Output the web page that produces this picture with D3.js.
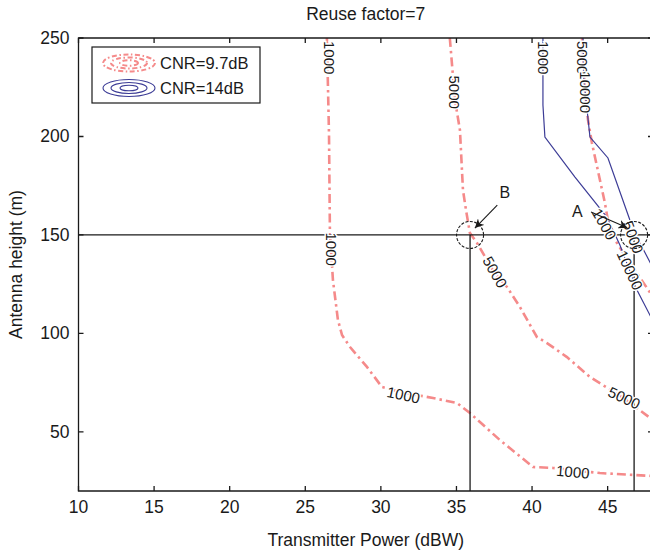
<!DOCTYPE html>
<html><head><meta charset="utf-8">
<script src="https://cdn.jsdelivr.net/npm/d3@7"></script>
<style>body{margin:0;background:#fff}svg{display:block;font-family:"Liberation Sans",Arial,sans-serif}</style>
</head><body>
<svg id="c" width="650" height="553"></svg>
<script>
// ---- data ----
const xTicks = [10,15,20,25,30,35,40,45];
const yTicks = [50,100,150,200,250];
const red1000 = [[26.43,250],[26.57,200.8],[26.63,151],[26.83,127.1],[27.16,106.8],[27.43,99.2],[27.96,93.1],[29.08,83],[30.07,72.8],[31.26,70.3],[33.45,67.2],[35.03,64.7],[35.89,59.6],[36.55,55],[37.87,45.9],[40.06,32.2],[41.38,31.7],[44.49,29.1],[48,27.6]];
const red5000 = [[34.56,250],[34.9,218.5],[35.23,203.3],[35.43,172.8],[35.63,162.7],[35.89,151],[36.36,145.9],[37.48,131.2],[38.34,123.6],[39.2,113.4],[40.32,98.2],[40.99,95.1],[42.31,88],[43.83,77.9],[45.95,67.7],[46.94,62.1],[48,56]];
const red10000 = [[43.3,250],[43.5,223.6],[43.7,208.4],[43.96,196.7],[44.49,177.9],[44.82,166.2],[45.15,151.5],[46.34,137.3],[47.6,123.1],[48,118.5]];
const blue1000 = [[40.72,250],[40.72,216],[40.85,199.7],[42.84,179.4],[44.95,159.1],[45.81,144.9],[46.94,122.1],[48,106.3]];
const blue5000 = [[43.37,250],[43.43,228.7],[43.83,199.7],[45.02,189.1],[46.47,157.6],[47.14,145.9],[48,133.2]];
const labelText = ["1000","1000","1000","1000","5000","5000","5000","1000","5000","10000","1000","5000","10000"];
const labelX    = [26.58,26.72,31.5,42.7,34.9,37.55,46.1,40.75,43.33,43.55,44.78,46.69,46.48];
const labelY    = [240,142.8,68.8,29.8,222.5,131.2,67.3,240,240,222.5,155.6,148.9,132.2];
const labelAng  = [90,90,12,5,90,60,25,90,90,90,60,70,65];
const refPower = [35.9, 46.75];
const refHeight = 150;
const legendNames = ["CNR=9.7dB","CNR=14dB"];

// ---- chart ----
const W=650,H=553, L=78.5, T=38, R=653, B=491;
const svg=d3.select("#c");
const x=d3.scaleLinear().domain([10,48]).range([L,R]);
const y=d3.scaleLinear().domain([20,250]).range([B,T]);
const red="#f58a8a", blue="#3c3c96", ink="#1a1a1a";
const fs=17.5;

svg.append("text").attr("x",(L+R)/2).attr("y",20).attr("text-anchor","middle")
  .attr("font-size",fs).attr("fill",ink).text("Reuse factor=7");
svg.append("text").attr("x",(L+R)/2).attr("y",546).attr("text-anchor","middle")
  .attr("font-size",fs).attr("fill",ink).text("Transmitter Power (dBW)");
svg.append("text").attr("transform",`translate(22,${(T+B)/2}) rotate(-90)`).attr("text-anchor","middle")
  .attr("font-size",fs).attr("fill",ink).text("Antenna height (m)");

const g=svg.append("g");
const line=d3.line().x(d=>x(d[0])).y(d=>y(d[1]));
function drawRed(d){g.append("path").attr("d",line(d)).attr("fill","none").attr("stroke",red)
  .attr("stroke-width",2.6).attr("stroke-dasharray","9,4,2.5,4");}
function drawBlue(d){g.append("path").attr("d",line(d)).attr("fill","none").attr("stroke",blue).attr("stroke-width",1.2);}
[red1000,red5000,red10000].forEach(drawRed);
[blue1000,blue5000].forEach(drawBlue);

// reference lines
g.append("line").attr("x1",x(10)).attr("x2",x(48)).attr("y1",y(refHeight)).attr("y2",y(refHeight)).attr("stroke",ink).attr("stroke-width",1.3);
refPower.forEach(p=>g.append("line").attr("x1",x(p)).attr("x2",x(p)).attr("y1",y(refHeight)).attr("y2",y(20)).attr("stroke",ink).attr("stroke-width",1.3));

// contour labels
labelText.forEach((t,i)=>{
  g.append("text").attr("transform",`translate(${x(labelX[i])},${y(labelY[i])}) rotate(${labelAng[i]})`)
   .attr("text-anchor","middle").attr("dominant-baseline","central").attr("font-size",15)
   .attr("fill",ink).attr("stroke","#fff").attr("stroke-width",3).attr("paint-order","stroke").text(t);
});

// circles
refPower.forEach(p=>g.append("circle").attr("cx",x(p)).attr("cy",y(refHeight)).attr("r",13.5)
  .attr("fill","none").attr("stroke",ink).attr("stroke-width",1.1).attr("stroke-dasharray","3,1.5"));

// arrows
svg.append("defs").append("marker").attr("id","ah").attr("viewBox","0 0 10 10").attr("refX",10).attr("refY",5)
  .attr("markerWidth",9).attr("markerHeight",9).attr("markerUnits","userSpaceOnUse").attr("orient","auto")
  .append("path").attr("d","M0,0L10,5L0,10L3,5Z").attr("fill",ink);
const arrows=[{from:[37.7,165.2],to:[36.22,153.5],lab:"B",lx:38.2,ly:171.5},{from:[43.9,161.7],to:[46.3,153.6],lab:"A",lx:43.0,ly:162}];
arrows.forEach(a=>{
  g.append("line").attr("x1",x(a.from[0])).attr("y1",y(a.from[1])).attr("x2",x(a.to[0])).attr("y2",y(a.to[1]))
   .attr("stroke",ink).attr("stroke-width",1.1).attr("marker-end","url(#ah)");
  g.append("text").attr("x",x(a.lx)).attr("y",y(a.ly)).attr("text-anchor","middle").attr("dominant-baseline","central")
   .attr("font-size",16).attr("fill",ink).text(a.lab);
});

// axes
const ax=svg.append("g").attr("fill","none").attr("stroke",ink).attr("stroke-width",1.3);
ax.append("path").attr("d",`M${L},${B}V${T}H${R}V${B}Z`);
const tl=5;
xTicks.forEach(v=>{ax.append("path").attr("d",`M${x(v)},${B}v${-tl}M${x(v)},${T}v${tl}`);});
yTicks.forEach(v=>{ax.append("path").attr("d",`M${L},${y(v)}h${tl}M${R},${y(v)}h${-tl}`);});
xTicks.forEach(v=>svg.append("text").attr("x",x(v)).attr("y",B+22).attr("text-anchor","middle")
  .attr("font-size",fs).attr("fill",ink).text(v));
yTicks.forEach(v=>svg.append("text").attr("x",L-9).attr("y",y(v)).attr("text-anchor","end").attr("dominant-baseline","central")
  .attr("font-size",fs).attr("fill",ink).text(v));

// legend
const lg=svg.append("g");
lg.append("rect").attr("x",92).attr("y",47).attr("width",168).attr("height",56).attr("fill","#fff").attr("stroke",ink).attr("stroke-width",1.2);
const cols=[red,blue];
legendNames.forEach((n,i)=>{
  const cy=63+i*25, cx=129;
  [[26,8.5],[18,5.5],[9,2.8]].forEach(([rx,ry])=>{
    lg.append("ellipse").attr("cx",cx).attr("cy",cy).attr("rx",rx).attr("ry",ry).attr("fill","none")
      .attr("stroke",cols[i]).attr("stroke-width",i?1.1:2).attr("stroke-dasharray",i?null:"5,2.5,1.5,2.5");
  });
  lg.append("text").attr("x",160).attr("y",cy).attr("dominant-baseline","central").attr("font-size",16.5).attr("fill",ink).text(n);
});
</script>
</body></html>
